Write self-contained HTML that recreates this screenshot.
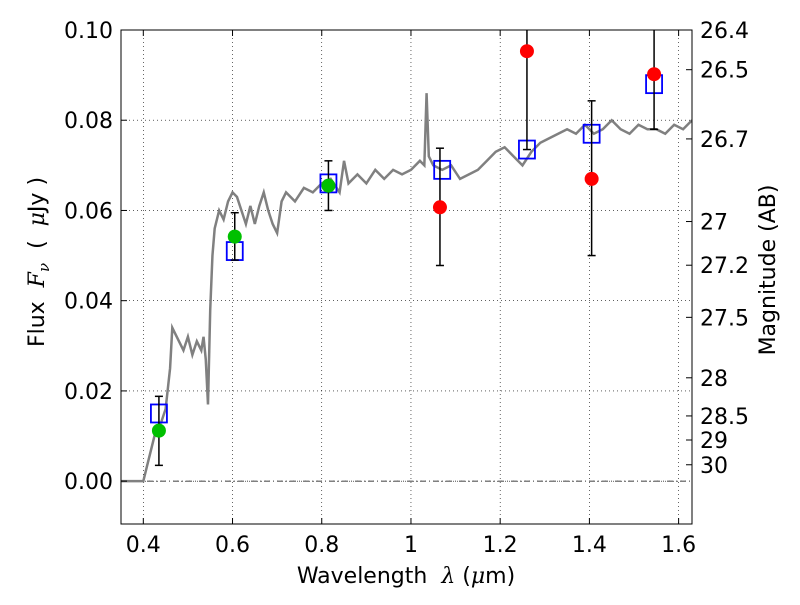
<!DOCTYPE html>
<html><head><meta charset="utf-8"><style>
html,body{margin:0;padding:0;background:#fff;}
svg text{font-family:"DejaVu Sans","Liberation Sans",sans-serif;fill:#000;white-space:pre;}
</style></head><body>
<svg id="chart" width="800" height="600" viewBox="0 0 800 600"></svg>
<script>
const specX=[0.35,0.40,0.41,0.42,0.43,0.44,0.45,0.46,0.465,0.47,0.48,0.49,0.50,0.51,0.52,0.53,0.535,0.54,0.545,0.55,0.555,0.56,0.57,0.58,0.59,0.60,0.61,0.62,0.63,0.64,0.65,0.66,0.67,0.68,0.69,0.70,0.71,0.72,0.74,0.76,0.78,0.80,0.82,0.84,0.85,0.86,0.88,0.90,0.92,0.94,0.96,0.98,1.00,1.02,1.03,1.035,1.04,1.05,1.07,1.09,1.11,1.13,1.15,1.17,1.19,1.21,1.23,1.25,1.27,1.29,1.31,1.33,1.35,1.37,1.39,1.41,1.43,1.45,1.47,1.49,1.51,1.53,1.55,1.57,1.59,1.61,1.63];
const specY=[0,0,0.004,0.008,0.012,0.013,0.016,0.025,0.034,0.033,0.031,0.029,0.032,0.028,0.031,0.029,0.032,0.027,0.017,0.038,0.050,0.056,0.060,0.058,0.062,0.064,0.063,0.060,0.057,0.061,0.057,0.061,0.064,0.060,0.057,0.055,0.062,0.064,0.062,0.065,0.064,0.066,0.067,0.064,0.071,0.066,0.068,0.066,0.069,0.067,0.069,0.068,0.069,0.071,0.070,0.086,0.072,0.070,0.069,0.070,0.067,0.068,0.069,0.071,0.073,0.074,0.072,0.070,0.073,0.075,0.076,0.077,0.078,0.077,0.079,0.077,0.078,0.080,0.078,0.077,0.079,0.078,0.078,0.077,0.079,0.078,0.080];
const modelX=[0.435,0.605,0.815,1.07,1.26,1.405,1.545];
const modelY=[0.015,0.051,0.066,0.069,0.0735,0.077,0.088];
const greenX=[0.435,0.605,0.815];
const greenY=[0.0112,0.0542,0.0655];
const greenLo=[0.0035,0.049,0.060];
const greenHi=[0.0188,0.0595,0.071];
const redX=[1.065,1.26,1.405,1.545];
const redY=[0.0607,0.0953,0.0670,0.0902];
const redLo=[0.0478,0.0735,0.050,0.078];
const redHi=[0.0738,0.115,0.0843,0.105];
const xTicks=[0.4,0.6,0.8,1.0,1.2,1.4,1.6];
const xTickLabels=["0.4","0.6","0.8","1","1.2","1.4","1.6"];
const yTicks=[0,0.02,0.04,0.06,0.08,0.10];
const yTickLabels=["0.00","0.02","0.04","0.06","0.08","0.10"];
const magTicks=[26.4,26.5,26.7,27,27.2,27.5,28,28.5,29,30];

const L=121,R=692,T=30,B=524,X0=0.35,X1=1.63,Y0=-0.0095,Y1=0.10;
const sx=v=>L+(v-X0)/(X1-X0)*(R-L);
const sy=v=>B-(v-Y0)/(Y1-Y0)*(B-T);
const svg=document.getElementById('chart');
const NS='http://www.w3.org/2000/svg';
function mk(tag,attrs,parent){const e=document.createElementNS(NS,tag);for(const k in attrs)e.setAttribute(k,attrs[k]);(parent||svg).appendChild(e);return e;}
const clipD=mk('defs',{});const cp=mk('clipPath',{id:'cp'},clipD);mk('rect',{x:L,y:T,width:R-L,height:B-T},cp);
const plot=mk('g',{'clip-path':'url(#cp)'});


xTicks.forEach(v=>{const g=mk('line',{x1:sx(v),x2:sx(v),y1:T,y2:B,stroke:'#000','stroke-width':0.6,'stroke-dasharray':'1,3'},plot);

});
yTicks.forEach(v=>{const g=mk('line',{x1:L,x2:R,y1:sy(v),y2:sy(v),stroke:'#000','stroke-width':0.6,'stroke-dasharray':'1,3'},plot);

});
const zl=mk('line',{x1:L,x2:R,y1:sy(0),y2:sy(0),stroke:'#000','stroke-width':0.8,'stroke-dasharray':'6,3,1,3'},plot);


const sp=mk('polyline',{points:specX.map((x,i)=>sx(x)+','+sy(specY[i])).join(' '),fill:'none',stroke:'#808080','stroke-width':2.5},plot);


modelX.forEach((x,i)=>{const r=mk('rect',{x:sx(x)-8,y:sy(modelY[i])-9,width:16,height:18,fill:'none',stroke:'#0000ff','stroke-width':1.8},plot);

});
function pts(xs,ys,lo,hi,col,name){xs.forEach((x,i)=>{
 const e=mk('line',{x1:sx(x),x2:sx(x),y1:sy(lo[i]),y2:sy(hi[i]),stroke:'#000','stroke-width':1.5},plot);
 
 
 [lo[i],hi[i]].forEach(v=>{mk('line',{x1:sx(x)-4,x2:sx(x)+4,y1:sy(v),y2:sy(v),stroke:'#000','stroke-width':1.5},plot);});
 const c=mk('circle',{cx:sx(x),cy:sy(ys[i]),r:7,fill:col},plot);
 
 });}
pts(greenX,greenY,greenLo,greenHi,'#00c000','detection');
pts(redX,redY,redLo,redHi,'#ff0000','upper-detection');
const fr=mk('rect',{x:L,y:T,width:R-L,height:B-T,fill:'none',stroke:'#000','stroke-width':1});


xTicks.forEach((v,i)=>{mk('line',{x1:sx(v),x2:sx(v),y1:B,y2:B-6,stroke:'#000'});mk('line',{x1:sx(v),x2:sx(v),y1:T,y2:T+6,stroke:'#000'});
const t=mk('text',{x:sx(v),y:B+28,'text-anchor':'middle','font-size':22});t.textContent=xTickLabels[i];

});
yTicks.forEach((v,i)=>{mk('line',{x1:L,x2:L+6,y1:sy(v),y2:sy(v),stroke:'#000'});
const t=mk('text',{x:L-8,y:sy(v)+8,'text-anchor':'end','font-size':22});t.textContent=yTickLabels[i];

});
magTicks.forEach(m=>{const f=Math.pow(10,(23.9-m)/2.5);const y=sy(f);
mk('line',{x1:R,x2:R-6,y1:y,y2:y,stroke:'#000'});
const t=mk('text',{x:R+8,y:y+8,'font-size':22});t.textContent=String(m);

});
const xt=mk('text',{x:406,y:583,'text-anchor':'middle','font-size':22});
xt.innerHTML='Wavelength  <tspan font-style="italic" font-family="DejaVu Serif,serif">λ</tspan> (<tspan font-style="italic" font-family="DejaVu Serif,serif">μ</tspan>m)';


const yt=mk('text',{transform:'translate(44,262) rotate(-90)','text-anchor':'middle','font-size':22});
yt.innerHTML='Flux  <tspan font-style="italic" font-family="DejaVu Serif,serif">F</tspan><tspan font-style="italic" font-size="15" dy="5" font-family="DejaVu Serif,serif">ν</tspan><tspan dy="-5">  (  </tspan><tspan font-style="italic" font-family="DejaVu Serif,serif">μ</tspan>Jy )';


const rt=mk('text',{transform:'translate(775,270) rotate(-90)','text-anchor':'middle','font-size':22});
rt.textContent='Magnitude (AB)';


</script>
</body></html>
